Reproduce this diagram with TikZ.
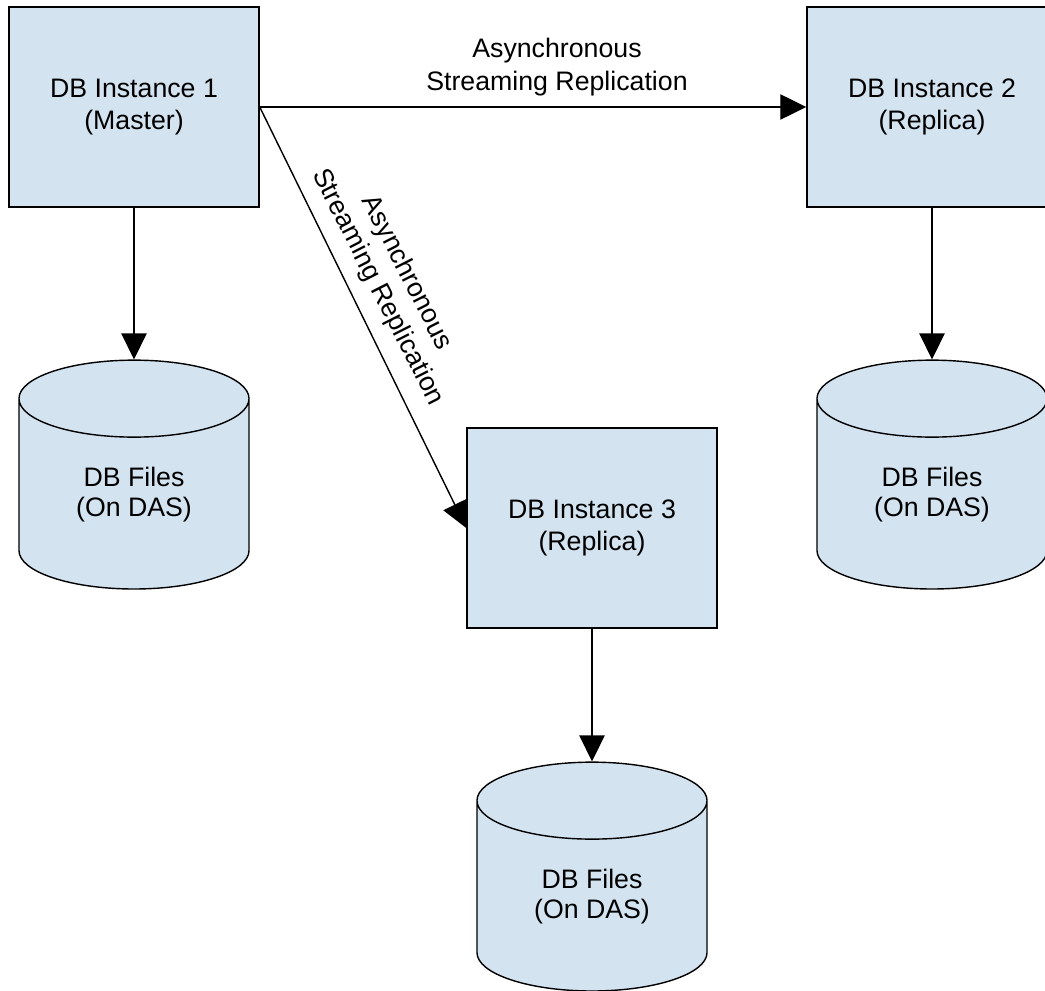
\documentclass[tikz,border=0pt]{standalone}
\usepackage{fontspec}
\setmainfont{Liberation Sans}
\usetikzlibrary{shapes,arrows.meta,positioning}
\definecolor{boxblue}{RGB}{211,227,240}

\tikzset{
    dbbox/.style={draw, rectangle, fill=boxblue, line width=1pt, minimum width=6.25cm, minimum height=5cm, align=center, font=\fontsize{19}{23}\selectfont},
    dbfiles/.style={draw, cylinder, shape border rotate=90, aspect=0.615, cylinder uses custom fill, cylinder body fill=boxblue, cylinder end fill=boxblue, line width=1pt, minimum width=5.75cm, minimum height=5.72cm, text depth=11.5pt, align=center, font=\fontsize{19}{21.5}\selectfont},
    flow/.style={draw, -{Triangle[length=18.5pt,width=18pt]}, line width=1pt},
    flowtext/.style={align=center, font=\fontsize{19}{23}\selectfont}
}

\begin{document}
\begin{tikzpicture}[x=0.025cm, y=-0.025cm]
    \useasboundingbox (0,0) rectangle (1045,991);

    \node[dbbox] (inst1) at (134,107) {DB Instance 1\\(Master)};
    \node[dbbox] (inst2) at (932,107) {DB Instance 2\\(Replica)};
    \node[dbbox] (inst3) at (592,528) {DB Instance 3\\(Replica)};

    \node[dbfiles] (files1) at (134,499.6) {DB Files\\(On DAS)};
    \node[dbfiles] (files2) at (932,499.6) {DB Files\\(On DAS)};
    \node[dbfiles] (files3) at (592,901.6) {DB Files\\(On DAS)};

    \draw[flow] (inst1.east) -- (inst2.west);
    \draw[flow] (inst1.east) -- (inst3.west);
    \draw[flow] (inst1.south) -- (files1.north);
    \draw[flow] (inst2.south) -- (files2.north);
    \draw[flow] (inst3.south) -- (files3.north);

    \node[flowtext] (label12) at (557,67) {Asynchronous\\Streaming Replication};
    \node[flowtext, rotate=-63] (label13) at (392,280) {Asynchronous\\Streaming Replication};
\end{tikzpicture}
\end{document}
